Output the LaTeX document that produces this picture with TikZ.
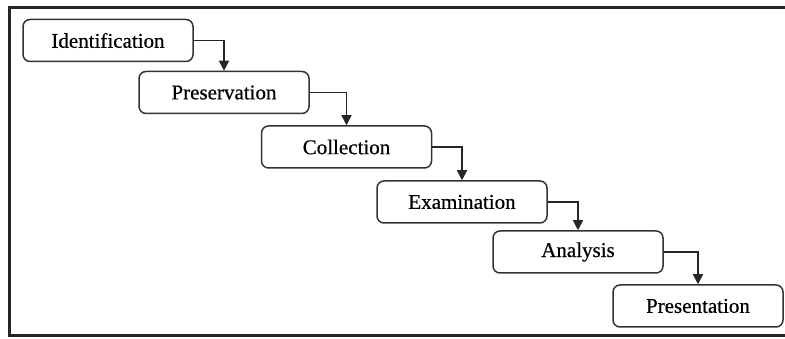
\documentclass[tikz,border=0pt]{standalone}
\usepackage{fontspec}
\setmainfont{Liberation Serif}
\newfontfamily\stagefont{Liberation Serif}[FakeBold=0.5]
\usetikzlibrary{arrows.meta}
\begin{document}
\begin{tikzpicture}[x=1pt,y=1pt,
  stage/.style={draw=black!80, line width=1.5pt, rounded corners=7pt,
    minimum width=170pt, minimum height=42pt, inner sep=0pt,
    font=\stagefont\fontsize{21}{24}\selectfont},
  flow/.style={draw=black!85, line width=1.5pt, -{Triangle[length=10pt,width=10pt]}}]
\useasboundingbox (0,0) rectangle (785,339);
\fill[white] (0,0) rectangle (785,339);
% frame (top, left, bottom)
\draw[line width=3pt, black!85] (785,331.5) -- (9,331.5) -- (9,3) -- (785,3);
\node[stage] (s1) at (108,298.5) {Identification};
\node[stage] (s2) at (224,246.5) {Preservation};
\node[stage] (s3) at (346.5,192) {Collection};
\node[stage] (s4) at (462,137) {Examination};
\node[stage] (s5) at (578,87) {Analysis};
\node[stage] (s6) at (698,33) {Presentation};
\draw[flow] (s1.east) -| (s2.north);
\draw[flow] (s2.east) -| (s3.north);
\draw[flow] (s3.east) -| (s4.north);
\draw[flow] (s4.east) -| (s5.north);
\draw[flow] (s5.east) -| (s6.north);
\end{tikzpicture}
\end{document}
